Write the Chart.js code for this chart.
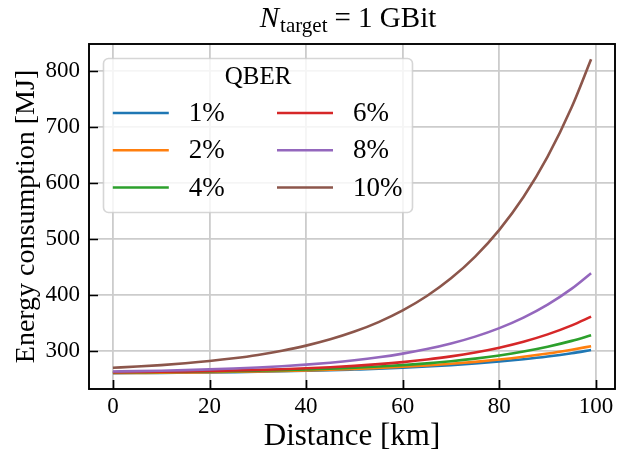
<!DOCTYPE html>
<html>
<head>
<meta charset="utf-8">
<script src="https://cdn.jsdelivr.net/npm/chart.js@4.4.0/dist/chart.umd.min.js"></script>
<style>
  html, body { margin: 0; padding: 0; background: #fff; }
  #wrap { width: 620px; height: 449px; }
</style>
</head>
<body>
<div id="wrap"><canvas id="energyChart" width="620" height="449"></canvas></div>
<script>
// distance in km, energy in MJ
const distance = [0, 5, 10, 15, 20, 25, 30, 35, 40, 45, 50, 55, 60, 65, 70, 75, 80, 85, 90, 95, 99];
const qber1 = [259.8, 260.1, 260.4, 260.8, 261.2, 261.7, 262.3, 263.1, 264.0, 265.0, 266.3, 267.7, 269.5, 271.6, 274.1, 277.0, 280.5, 284.7, 289.6, 295.5, 301.1];
const qber2 = [260.0, 260.3, 260.6, 261.1, 261.6, 262.2, 262.9, 263.8, 264.8, 266.0, 267.4, 269.1, 271.2, 273.6, 276.5, 280.0, 284.1, 289.0, 294.8, 301.8, 307.9];
const qber4 = [261.3, 261.6, 261.9, 262.3, 262.9, 263.5, 264.3, 265.2, 266.4, 267.8, 269.5, 271.6, 274.2, 277.3, 281.1, 285.8, 291.5, 298.5, 307.1, 317.5, 327.5];
const qber6 = [261.6, 261.9, 262.4, 263.0, 263.7, 264.5, 265.6, 266.9, 268.5, 270.4, 272.9, 275.9, 279.6, 284.2, 289.8, 296.8, 305.4, 316.0, 329.1, 345.2, 360.8];
const qber8 = [262.8, 263.4, 264.2, 265.2, 266.5, 268.0, 269.8, 272.1, 275.0, 278.5, 282.8, 288.1, 294.7, 302.8, 312.8, 325.1, 340.3, 359.1, 382.3, 410.8, 438.4];
const qber10 = [269.4, 271.6, 274.2, 277.5, 281.5, 286.4, 292.4, 299.9, 309.0, 320.3, 334.1, 351.1, 372.0, 397.7, 429.3, 468.1, 515.9, 574.5, 646.7, 735.4, 820.8];

const seriesLabels = ['1%', '2%', '4%', '6%', '8%', '10%'];
const seriesValues = [qber1, qber2, qber4, qber6, qber8, qber10];
const lineColors = ['#1f77b4', '#ff7f0e', '#2ca02c', '#d62728', '#9467bd', '#8c564b'];

const xTicks = [0, 20, 40, 60, 80, 100];
const yTicks = [300, 400, 500, 600, 700, 800];

const FONT = '"Liberation Serif", "Times New Roman", serif';

// spines + inward ticks (drawn over the lines like matplotlib)
const framePlugin = {
    id: 'frame',
    afterDatasetsDraw(chart) {
        const { ctx, chartArea: a, scales: { x, y } } = chart;
        ctx.save();
        ctx.strokeStyle = '#000';
        ctx.lineWidth = 1.7;
        ctx.beginPath();
        xTicks.forEach(v => {
            const px = Math.round(x.getPixelForValue(v)) + 0.5;
            ctx.moveTo(px, a.bottom);
            ctx.lineTo(px, a.bottom - 9);
        });
        yTicks.forEach(v => {
            const py = Math.round(y.getPixelForValue(v)) + 0.5;
            ctx.moveTo(a.left, py);
            ctx.lineTo(a.left + 9, py);
        });
        ctx.stroke();
        ctx.lineWidth = 1.9;
        ctx.strokeRect(a.left, a.top, a.right - a.left, a.bottom - a.top);
        ctx.restore();
    }
};

// title with a subscript: N_target = 1 GBit
const titlePlugin = {
    id: 'mathTitle',
    afterDraw(chart) {
        const { ctx, chartArea: a } = chart;
        const parts = [
            { text: 'N', font: 'italic 29px ' + FONT, dy: 0, gap: 1 },
            { text: 'target', font: '21px ' + FONT, dy: 5, gap: 7 },
            { text: '= 1 GBit', font: '29px ' + FONT, dy: 0, gap: 0 }
        ];
        ctx.save();
        ctx.fillStyle = '#000';
        ctx.textBaseline = 'alphabetic';
        let total = 0;
        parts.forEach(p => { ctx.font = p.font; p.w = ctx.measureText(p.text).width; total += p.w + p.gap; });
        let cx = (a.left + a.right) / 2 - total / 2 - 4;
        const base = 27;
        parts.forEach(p => {
            ctx.font = p.font;
            ctx.fillText(p.text, cx, base + p.dy);
            cx += p.w + p.gap;
        });
        ctx.restore();
    }
};

// two-column legend with a title, column-major like matplotlib
const legendPlugin = {
    id: 'qberLegend',
    afterDraw(chart) {
        const { ctx, chartArea: a } = chart;
        const bx = a.left + 14.5, by = a.top + 14.5, bw = 309, bh = 154, r = 5;
        ctx.save();
        ctx.beginPath();
        ctx.roundRect(bx, by, bw, bh, r);
        ctx.fillStyle = 'rgba(255,255,255,0.8)';
        ctx.fill();
        ctx.strokeStyle = 'rgba(204,204,204,0.8)';
        ctx.lineWidth = 1.6;
        ctx.stroke();

        ctx.fillStyle = '#000';
        ctx.textBaseline = 'middle';
        ctx.textAlign = 'center';
        ctx.font = '25px ' + FONT;
        ctx.fillText('QBER', bx + bw / 2, by + 19);

        ctx.textAlign = 'left';
        ctx.font = '27px ' + FONT;
        const rowY = [54.5, 91.7, 129];
        const colX = [9.3, 173.5];
        chart.data.datasets.forEach((ds, i) => {
            const col = Math.floor(i / 3), row = i % 3;
            const lx = bx + colX[col], ly = by + rowY[row];
            ctx.strokeStyle = ds.borderColor;
            ctx.lineWidth = 2.6;
            ctx.beginPath();
            ctx.moveTo(lx, ly);
            ctx.lineTo(lx + 56, ly);
            ctx.stroke();
            ctx.fillText(ds.label, lx + 76, ly + 1);
        });
        ctx.restore();
    }
};

const ctx = document.getElementById('energyChart').getContext('2d');
const chart = new Chart(ctx, {
    type: 'line',
    data: {
        datasets: seriesValues.map((vals, i) => ({
            label: seriesLabels[i],
            data: distance.map((d, j) => ({ x: d, y: vals[j] })),
            borderColor: lineColors[i],
            borderWidth: 2.6,
            pointRadius: 0,
            fill: false,
            cubicInterpolationMode: 'monotone',
            order: seriesValues.length - i
        }))
    },
    options: {
        responsive: false,
        animation: false,
        devicePixelRatio: 1,
        layout: { padding: { top: 44, right: 5, left: 0, bottom: 0 } },
        plugins: {
            legend: { display: false },
            title: { display: false },
            tooltip: { enabled: false }
        },
        scales: {
            x: {
                type: 'linear',
                min: -4.95,
                max: 103.95,
                afterBuildTicks: scale => { scale.ticks = xTicks.map(v => ({ value: v })); },
                afterFit: scale => {
                    scale.height = 60;
                    scale.paddingLeft = 0;
                    scale.paddingRight = 0;
                },
                grid: { color: '#cccccc', lineWidth: 1.8, drawTicks: false },
                border: { display: false },
                ticks: {
                    color: '#000',
                    padding: 4,
                    maxRotation: 0,
                    font: { family: FONT, size: 23 }
                },
                title: {
                    display: true,
                    text: 'Distance [km]',
                    color: '#000',
                    padding: { top: 0, bottom: 0 },
                    font: { family: FONT, size: 31, lineHeight: 0.8 }
                }
            },
            y: {
                type: 'linear',
                min: 231.5,
                max: 848,
                afterBuildTicks: scale => { scale.ticks = yTicks.map(v => ({ value: v })); },
                afterFit: scale => {
                    scale.width = 89;
                    scale.paddingTop = 0;
                    scale.paddingBottom = 0;
                },
                grid: { color: '#cccccc', lineWidth: 1.8, drawTicks: false },
                border: { display: false },
                ticks: {
                    color: '#000',
                    padding: 9,
                    font: { family: FONT, size: 23 }
                },
                title: {
                    display: true,
                    text: 'Energy consumption [MJ]',
                    color: '#000',
                    padding: { top: 13, bottom: 0 },
                    font: { family: FONT, size: 28, lineHeight: 1 }
                }
            }
        }
    },
    plugins: [framePlugin, legendPlugin, titlePlugin]
});
</script>
</body>
</html>
